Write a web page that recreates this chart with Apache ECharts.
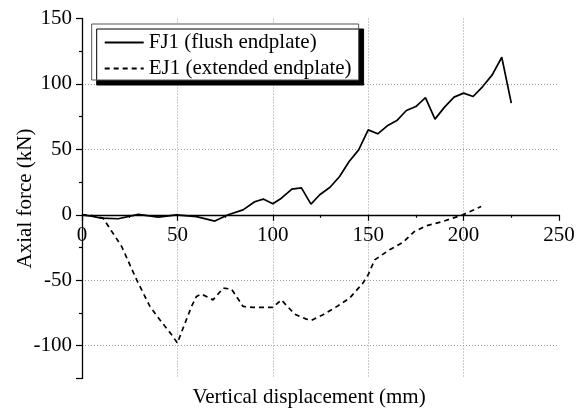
<!DOCTYPE html>
<html>
<head>
<meta charset="utf-8">
<script src="https://cdn.jsdelivr.net/npm/echarts@6/dist/echarts.min.js"></script>
<style>
html,body{margin:0;padding:0;background:#fff;}
#chart{width:588px;height:412px;}
</style>
</head>
<body>
<div id="chart"></div>
<script>
// FJ1 (flush endplate)
var fj1Disp  = [0, 5, 10, 19, 29.5, 40, 49.5, 60, 69.6, 76.6, 84.4, 90.5, 95, 100, 104.5, 110, 115, 120, 124.6, 130, 135, 140, 145, 150, 155, 160, 165, 170, 175, 180, 185, 190, 195, 200, 205, 210, 215, 220, 225];
var fj1Force = [0, -1, -2.5, -3, 0.3, -1.8, 0, -1.4, -4.8, 0, 3.8, 10, 12, 8.4, 12.7, 19.6, 20.6, 8.2, 15.3, 21.1, 29.3, 40.7, 49.6, 64.9, 61.9, 68, 72, 79.7, 82.7, 89.6, 73.1, 82.3, 89.9, 93, 90.4, 98, 106.9, 120.4, 85.3];
// EJ1 (extended endplate)
var ej1Disp  = [0, 5, 11, 20.8, 28.6, 35.6, 40.8, 47, 50, 53, 57.4, 60, 62.6, 68.7, 74, 78.4, 84.4, 89.7, 100, 104.5, 111.5, 117.6, 120.2, 126.3, 134.2, 140.3, 147.2, 150, 153.4, 161.2, 168.2, 174.3, 180.4, 189.1, 199.6, 209.2];
var ej1Force = [0, -0.5, -2.5, -24.2, -49.6, -70, -80.2, -91.7, -98, -86.5, -70, -62.4, -60.6, -65, -56, -56.8, -70, -70.8, -70.8, -65, -76, -79.7, -80.7, -76.4, -69.5, -63.6, -52.2, -45.8, -34.4, -26.7, -21.1, -12.7, -8.4, -5.1, 0, 6.4];
var seriesNames = ['FJ1 (flush endplate)', 'EJ1 (extended endplate)'];
var xRange = [0, 250];
var yRange = [-125, 150];

function zip(a, b) { return a.map(function (v, i) { return [v, b[i]]; }); }

var FONT = "'Liberation Serif', 'Times New Roman', serif";
var GRID_TOP = 18.5, GRID_BOTTOM = 33.6, H = 412;
var plotH = H - GRID_TOP - GRID_BOTTOM;
// distance from grid bottom up to the y = 0 line
var zeroOffset = plotH * (0 - yRange[0]) / (yRange[1] - yRange[0]);

var chart = echarts.init(document.getElementById('chart'), null, {renderer: 'canvas'});
chart.setOption({
  animation: false,
  backgroundColor: '#fff',
  textStyle: {fontFamily: FONT, color: '#000'},
  grid: {left: 82, right: 29, top: GRID_TOP, bottom: GRID_BOTTOM, containLabel: false, outerBoundsMode: 'none'},
  legend: {
    orient: 'vertical',
    left: 91.7, top: 24,
    padding: [8, 7, 1, 12],
    itemGap: 5,
    itemWidth: 39, itemHeight: 14,
    backgroundColor: '#fff',
    borderColor: '#555', borderWidth: 1,
    shadowColor: '#000', shadowBlur: 0, shadowOffsetX: 5, shadowOffsetY: 5,
    itemStyle: {opacity: 0},
    textStyle: {fontFamily: FONT, fontSize: 21, color: '#000'},
    data: seriesNames
  },
  xAxis: {
    type: 'value',
    min: xRange[0], max: xRange[1], interval: 50,
    offset: -zeroOffset,
    name: 'Vertical displacement (mm)',
    nameLocation: 'middle', nameGap: 172.5, nameMoveOverlap: false,
    nameTextStyle: {fontFamily: FONT, fontSize: 21, color: '#000', padding: [0, 23, 0, 0]},
    axisLine: {onZero: false, lineStyle: {color: '#000', width: 1.3}},
    axisTick: {show: true, inside: false, length: 6, lineStyle: {color: '#000', width: 1.2}},
    minorTick: {show: true, splitNumber: 2, length: 3, lineStyle: {color: '#000', width: 1.2}},
    axisLabel: {fontFamily: FONT, fontSize: 21, color: '#000', margin: 10},
    splitLine: {show: true, showMinLine: false, showMaxLine: false, lineStyle: {color: '#9a9a9a', width: 1, type: [1, 2]}}
  },
  yAxis: {
    type: 'value',
    min: yRange[0], max: yRange[1],
    name: 'Axial force (kN)',
    nameLocation: 'middle', nameGap: 46.5, nameRotate: 90, nameMoveOverlap: false,
    nameTextStyle: {fontFamily: FONT, fontSize: 21, color: '#000'},
    axisLine: {show: true, onZero: false, lineStyle: {color: '#000', width: 1.3}},
    axisTick: {show: true, inside: false, length: 6, lineStyle: {color: '#000', width: 1.2}},
    minorTick: {show: true, splitNumber: 2, length: 3, lineStyle: {color: '#000', width: 1.2}},
    axisLabel: {fontFamily: FONT, fontSize: 21, color: '#000', margin: 10,
      formatter: function (v) { return (v % 50 === 0) ? String(v) : ''; }},
    splitLine: {show: true, showMinLine: false, showMaxLine: false, lineStyle: {color: '#9a9a9a', width: 1, type: [1, 2]}}
  },
  series: [
    {
      name: seriesNames[0], type: 'line', data: zip(fj1Disp, fj1Force),
      symbol: 'none', smooth: false,
      lineStyle: {color: '#000', width: 1.7, type: 'solid'},
      itemStyle: {color: '#000'}
    },
    {
      name: seriesNames[1], type: 'line', data: zip(ej1Disp, ej1Force),
      symbol: 'none', smooth: false,
      lineStyle: {color: '#000', width: 1.7, type: [5, 4]},
      itemStyle: {color: '#000'}
    }
  ]
});
</script>
</body>
</html>
